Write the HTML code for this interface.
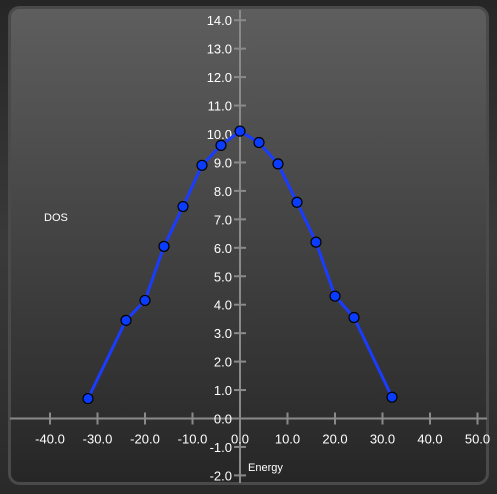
<!DOCTYPE html>
<html><head><meta charset="utf-8"><style>
html,body{margin:0;padding:0;background:#2a2a2a;}
svg{display:block;font-family:"Liberation Sans",sans-serif;}
</style></head><body>
<svg id="chart" width="497" height="494">
<defs>
<linearGradient id="bg" x1="0" y1="0" x2="0" y2="1">
<stop offset="0" stop-color="#262626"/><stop offset="0.5" stop-color="#3a3a3a"/><stop offset="1" stop-color="#2a2a2a"/>
</linearGradient>
<linearGradient id="pg" x1="0" y1="0" x2="0" y2="1">
<stop offset="0" stop-color="#5e5e5e"/><stop offset="1" stop-color="#262626"/>
</linearGradient>
</defs>
<rect width="497" height="494" fill="url(#bg)"/>
<rect x="9.5" y="7.5" width="478" height="476" rx="10" fill="url(#pg)" stroke="#4a4a4a" stroke-width="3"/>
<g id="axes"></g>
<g id="series"></g>
<text x="44" y="221" fill="#fff" font-size="11">DOS</text>
<text x="248" y="471" fill="#fff" font-size="11">Energy</text>
</svg>
<script>
const energy=[-32,-24,-20,-16,-12,-8,-4,0,4,8,12,16,20,24,32];
const dos=[0.7,3.45,4.15,6.05,7.45,8.9,9.6,10.1,9.7,8.95,7.6,6.2,4.3,3.55,0.75];
const xTicks=[-40,-30,-20,-10,0,10,20,30,40,50];
const yTicks=[-2,-1,0,1,2,3,4,5,6,7,8,9,10,11,12,13,14];
const NS='http://www.w3.org/2000/svg';
const X=v=>240+v*4.75;
const Y=v=>418.5-v*28.45;
function mk(t,a,p){const e=document.createElementNS(NS,t);for(const k in a)e.setAttribute(k,a[k]);p.appendChild(e);return e;}
const ax=document.getElementById('axes');
let l=mk('line',{x1:10,x2:487,y1:Y(0),y2:Y(0),stroke:'#8a8a8a','stroke-width':2},ax);


l=mk('line',{x1:X(0),x2:X(0),y1:10,y2:483,stroke:'#8a8a8a','stroke-width':2},ax);


xTicks.forEach(v=>{
 const t=mk('line',{x1:X(v),x2:X(v),y1:Y(0)-6,y2:Y(0)+6,stroke:'#8a8a8a','stroke-width':2},ax);
 
 
 const tx=mk('text',{x:X(v),y:Y(0)+25,fill:'#fff','font-size':13,'text-anchor':'middle'},ax);
 tx.textContent=v.toFixed(1);
 
 
});
yTicks.forEach(v=>{
 const t=mk('line',{x1:X(0)-6,x2:X(0)+6,y1:Y(v),y2:Y(v),stroke:'#8a8a8a','stroke-width':2},ax);
 
 
 const tx=mk('text',{x:X(0)-8,y:Y(v)+5,fill:'#fff','font-size':13,'text-anchor':'end'},ax);
 tx.textContent=v.toFixed(1);
 
 
});
const sg=document.getElementById('series');
const pl=mk('polyline',{points:energy.map((e,i)=>X(e)+','+Y(dos[i])).join(' '),fill:'none',stroke:'#1a3cff','stroke-width':3,'stroke-linejoin':'round'},sg);


energy.forEach((e,i)=>{
 const c=mk('circle',{cx:X(e),cy:Y(dos[i]),r:5,fill:'#0a3cff',stroke:'#000','stroke-width':1.2},sg);
 
 
});
</script>
</body></html>
